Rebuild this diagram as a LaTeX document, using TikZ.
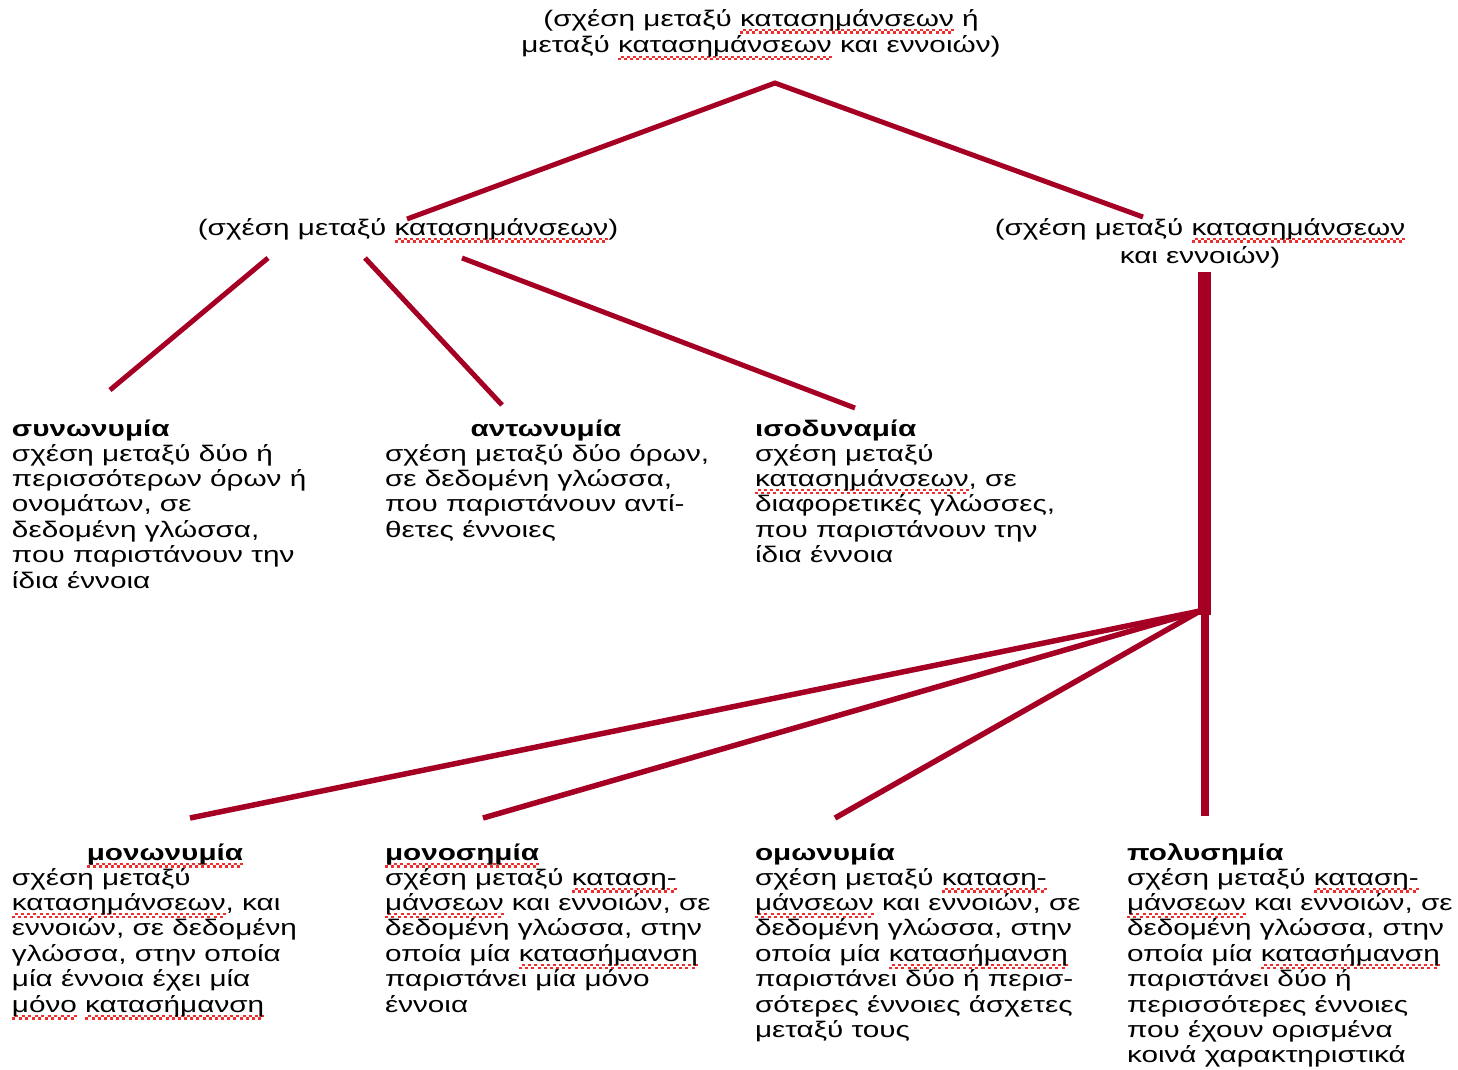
\documentclass[tikz,border=0pt]{standalone}
\usepackage{fontspec}
\setmainfont{Liberation Sans}[FakeStretch=1.32]
\usetikzlibrary{calc}

\definecolor{linkred}{RGB}{165,0,35}
\definecolor{wavered}{RGB}{240,45,45}

% red wavy underline under a word
\newsavebox\wvbox
\newcommand\wv[1]{\sbox\wvbox{#1}\rlap{\hbox to\wd\wvbox{\color{wavered}\xleaders\hbox{\rule[-7.5pt]{3pt}{2.2pt}\rule[-5pt]{3pt}{2.2pt}}\hfill}}\usebox\wvbox}
% fixed height of the first line of a block
\newcommand\lead{\rule{0pt}{18pt}}

\tikzset{
  link/.style={draw=linkred, line width=5pt},
  txt/.style={inner sep=0pt, outer sep=0pt, font=\fontsize{22.5}{25.4}\selectfont, align=left, anchor=north west},
  plain/.style={inner sep=0pt, outer sep=0pt, font=\fontsize{22.5}{25.4}\selectfont, anchor=base west},
  ttl/.style={plain, font=\fontsize{22.5}{25.4}\selectfont\bfseries}
}

\begin{document}
\begin{tikzpicture}[x=1pt, y=-1pt]
\useasboundingbox (0,0) rectangle (1458,1069);

% upper levels
\node[txt, align=center, anchor=north] (top) at (761,8)
  {\lead(σχέση μεταξύ \wv{κατασημάνσεων} ή\\[1.5pt]μεταξύ \wv{κατασημάνσεων} και εννοιών)};
\node[plain, anchor=base] (midl) at (408,235) {(σχέση μεταξύ \wv{κατασημάνσεων})};
\node[txt, align=center, anchor=north] (midr) at (1200,217)
  {\lead(σχέση μεταξύ \wv{κατασημάνσεων}\\[3.5pt]και εννοιών)};

% relations between designations
\node[ttl] (tsyn) at (12,436) {συνωνυμία};
\node[txt] (bsyn) at (12,443)
  {\lead σχέση μεταξύ δύο ή\\περισσότερων όρων ή\\ονομάτων, σε\\δεδομένη γλώσσα,\\που παριστάνουν την\\ίδια έννοια};
\node[ttl, anchor=base] (tant) at (546,436) {αντωνυμία};
\node[txt] (bant) at (385,443)
  {\lead σχέση μεταξύ δύο όρων,\\σε δεδομένη γλώσσα,\\που παριστάνουν αντί-\\θετες έννοιες};
\node[ttl] (tiso) at (755,436) {ισοδυναμία};
\node[txt] (biso) at (755,443)
  {\lead σχέση μεταξύ\\\wv{κατασημάνσεων}, σε\\διαφορετικές γλώσσες,\\που παριστάνουν την\\ίδια έννοια};

% relations between designations and concepts
\node[ttl, anchor=base] (tmonon) at (165,860) {\wv{μονωνυμία}};
\node[txt] (bmonon) at (12,867)
  {\lead σχέση μεταξύ\\\wv{κατασημάνσεων}, και\\εννοιών, σε δεδομένη\\γλώσσα, στην οποία\\μία έννοια έχει μία\\\wv{μόνο} \wv{κατασήμανση}};
\node[ttl] (tmonos) at (385,860) {\wv{μονοσημία}};
\node[txt] (bmonos) at (385,867)
  {\lead σχέση μεταξύ \wv{καταση-}\\\wv{μάνσεων} και εννοιών, σε\\δεδομένη γλώσσα, στην\\οποία μία \wv{κατασήμανση}\\παριστάνει μία μόνο\\έννοια};
\node[ttl] (tomon) at (755,860) {ομωνυμία};
\node[txt] (bomon) at (755,867)
  {\lead σχέση μεταξύ \wv{καταση-}\\\wv{μάνσεων} και εννοιών, σε\\δεδομένη γλώσσα, στην\\οποία μία \wv{κατασήμανση}\\παριστάνει δύο ή περισ-\\σότερες έννοιες άσχετες\\μεταξύ τους};
\node[ttl] (tpoly) at (1127,860) {πολυσημία};
\node[txt] (bpoly) at (1127,867)
  {\lead σχέση μεταξύ \wv{καταση-}\\\wv{μάνσεων} και εννοιών, σε\\δεδομένη γλώσσα, στην\\οποία μία \wv{κατασήμανση}\\παριστάνει δύο ή\\περισσότερες έννοιες\\που έχουν ορισμένα\\κοινά χαρακτηριστικά};

% connector end points
\coordinate (apex) at (775,83);
\coordinate (toL) at (407,219);
\coordinate (toR) at (1143,217);
\coordinate (l1) at (268,258);
\coordinate (l1e) at (110,390);
\coordinate (l2) at (365,258);
\coordinate (l2e) at (502,405);
\coordinate (l3) at (462,258);
\coordinate (l3e) at (855,408);
\coordinate (stemtop) at (1204.5,272);
\coordinate (hub) at (1204.5,615);
\coordinate (fan) at (1200,611);
\coordinate (f1) at (190,818);
\coordinate (f2) at (483,818);
\coordinate (f3) at (835,818);
\coordinate (stemlow) at (1205,612);
\coordinate (f4) at (1205,816);

% connectors
\draw[link] (toL) -- (apex) -- (toR);
\draw[link] (l1) -- (l1e);
\draw[link] (l2) -- (l2e);
\draw[link] (l3) -- (l3e);
\draw[link, line width=13pt] (stemtop) -- (hub);
\draw[link, line width=8pt] (stemlow) -- (f4);
\draw[link, line width=5.5pt] (fan) -- (f1);
\draw[link, line width=5.5pt] (fan) -- (f2);
\draw[link, line width=5.5pt] (fan) -- (f3);
\end{tikzpicture}
\end{document}
